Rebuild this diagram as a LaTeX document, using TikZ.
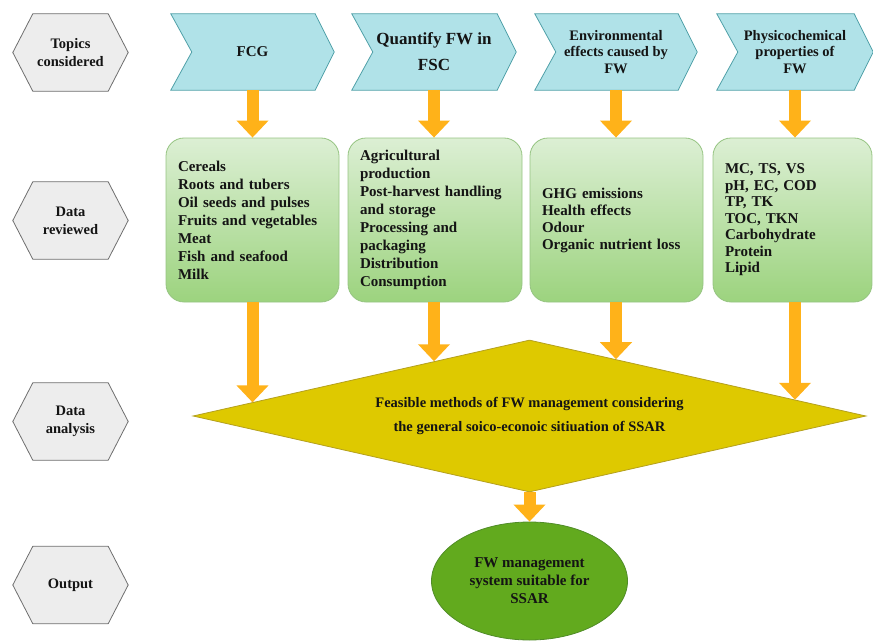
\documentclass[tikz,border=0pt]{standalone}
\usepackage{fontspec}
\setmainfont{Liberation Serif}
\usetikzlibrary{arrows.meta,shapes.geometric,backgrounds,calc,intersections}
\definecolor{chevfill}{RGB}{176,226,232}
\definecolor{chevline}{RGB}{80,160,168}
\definecolor{hexfill}{RGB}{237,237,237}
\definecolor{hexline}{RGB}{110,110,110}
\definecolor{boxtop}{RGB}{220,239,212}
\definecolor{boxbot}{RGB}{156,211,126}
\definecolor{boxline}{RGB}{150,196,130}
\definecolor{diafill}{RGB}{222,201,0}
\definecolor{dialine}{RGB}{180,160,30}
\definecolor{ellfill}{RGB}{98,170,30}
\definecolor{ellline}{RGB}{80,140,40}
\definecolor{arr}{RGB}{255,178,25}
\definecolor{txt}{RGB}{20,20,20}
\begin{document}
\begin{tikzpicture}[x=1pt,y=-1pt,
  every node/.style={text=txt},
  hexnode/.style={minimum width=115pt, minimum height=77pt, inner sep=0pt, align=center,
    font=\fontsize{14.5}{18}\selectfont\bfseries},
  chevnode/.style={minimum height=76pt, inner sep=0pt, align=center},
  greenbox/.style={draw=boxline, line width=0.8pt, rounded corners=18pt, top color=boxtop,
    bottom color=boxbot, minimum height=164pt, inner xsep=12pt, inner ysep=0pt, align=left,
    font=\fontsize{15}{18}\selectfont\bfseries},
  flow/.style={draw=arr, line width=12pt, -{Triangle[width=31pt,length=17pt]}},
]
\path[use as bounding box] (0,0) rectangle (873,642);

% left hexagons
\node[hexnode] (h1) at (70.5,52.5) {Topics\\considered};
\node[hexnode] (h2) at (70.5,220.5) {Data\\reviewed};
\node[hexnode] (h3) at (70.5,421.5) {Data\\analysis};
\node[hexnode] (h4) at (70.5,585) {Output};

% chevrons
\node[chevnode, minimum width=163pt, font=\fontsize{15}{18}\selectfont\bfseries] (c1) at (252.5,52) {FCG};
\node[chevnode, minimum width=164pt, font=\fontsize{17}{26}\selectfont\bfseries] (c2) at (434,52) {Quantify FW in\\FSC};
\node[chevnode, minimum width=162pt, font=\fontsize{14.5}{16.5}\selectfont\bfseries] (c3) at (616,52) {Environmental\\effects caused by\\FW};
\node[chevnode, minimum width=156pt, font=\fontsize{14.5}{16.5}\selectfont\bfseries] (c4) at (795,52) {Physicochemical\\properties of\\FW};

\begin{scope}[on background layer]
\foreach \n in {h1,h2,h3,h4}{
  \draw[draw=hexline, fill=hexfill, line width=0.8pt] (\n.west) -- ($(\n.north west)+(20,0)$) -- ($(\n.north east)+(-20,0)$)
    -- (\n.east) -- ($(\n.south east)+(-20,0)$) -- ($(\n.south west)+(20,0)$) -- cycle;
}
\foreach \n in {c1,c2,c3,c4}{
  \draw[draw=chevline, fill=chevfill, line width=0.8pt] (\n.north west) -- ($(\n.north east)+(-19,0)$) -- (\n.east)
    -- ($(\n.south east)+(-19,0)$) -- (\n.south west) -- ($(\n.west)+(21,0)$) -- cycle;
}
\end{scope}

% green boxes
\node[greenbox, text width=149pt] (b1) at (252.5,220) {Cereals\\Roots and tubers\\Oil seeds and pulses\\Fruits and vegetables\\Meat\\Fish and seafood\\Milk};
\node[greenbox, text width=150pt] (b2) at (435,220) {Agricultural\\production\\Post-harvest handling\\and storage\\Processing and\\packaging\\Distribution\\Consumption};
\node[greenbox, text width=149pt, font=\fontsize{15}{17}\selectfont\bfseries] (b3) at (616.5,220) {GHG emissions\\Health effects\\Odour\\Organic nutrient loss\\[8pt]};
\node[greenbox, text width=135pt, font=\fontsize{15}{16.5}\selectfont\bfseries] (b4) at (792.5,220) {MC, TS, VS\\pH, EC, COD\\TP, TK\\TOC, TKN\\Carbohydrate\\Protein\\Lipid};

% diamond
\node[diamond, aspect=4.43, minimum width=673pt, minimum height=152pt, inner sep=0pt, draw=dialine, fill=diafill,
  line width=0.8pt, align=center, font=\fontsize{14.5}{24}\selectfont\bfseries] (dia) at (529.5,416)
  {Feasible methods of FW management considering\\the general soico-econoic sitiuation of SSAR};

% ellipse
\node[ellipse, minimum width=196pt, minimum height=118pt, inner sep=0pt, draw=ellline, fill=ellfill, line width=0.8pt,
  align=center, font=\fontsize{15}{18}\selectfont\bfseries] (ell) at (529.5,581) {FW management\\system suitable for\\SSAR};

% arrows chevron -> box
\draw[flow] (c1.south) -- (c1.south |- b1.north);
\draw[flow] (c2.south) -- (c2.south |- b2.north);
\draw[flow] (c3.south) -- (c3.south |- b3.north);
\draw[flow] (c4.south) -- (c4.south |- b4.north);

% arrows box -> diamond
\path[name path=dl] (dia.west) -- (dia.north);
\path[name path=dr] (dia.north) -- (dia.east);
\path[name path=v1] (c1.south) -- (c1.south |- dia.south);
\path[name path=v2] (c2.south) -- (c2.south |- dia.south);
\path[name path=v3] (c3.south) -- (c3.south |- dia.south);
\path[name path=v4] (c4.south) -- (c4.south |- dia.south);
\path[name intersections={of=v1 and dl, by=t1}];
\path[name intersections={of=v2 and dl, by=t2}];
\path[name intersections={of=v3 and dr, by=t3}];
\path[name intersections={of=v4 and dr, by=t4}];
\draw[flow] (c1.south |- b1.south) -- (t1);
\draw[flow] (c2.south |- b2.south) -- (t2);
\draw[flow] (c3.south |- b3.south) -- (t3);
\draw[flow] (c4.south |- b4.south) -- (t4);
\draw[flow] (dia.south) -- (ell.north);
\end{tikzpicture}
\end{document}
